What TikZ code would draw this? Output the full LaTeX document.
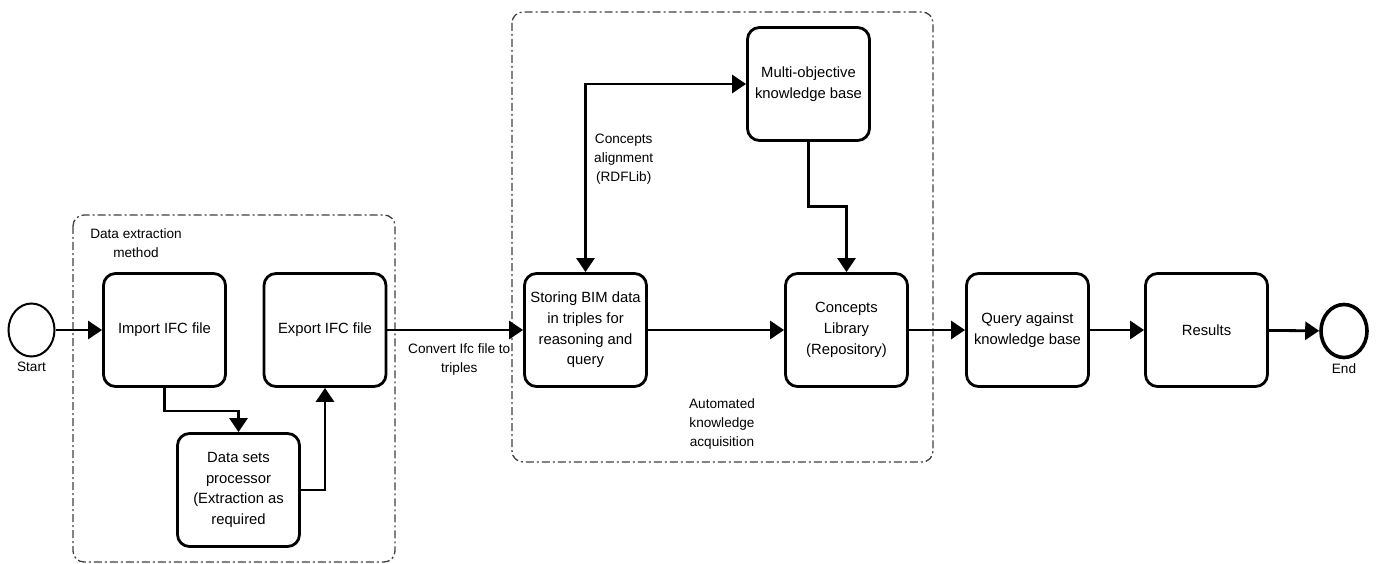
\documentclass[tikz,border=0pt]{standalone}
\usepackage{fontspec}
\setmainfont{Liberation Sans}
\usetikzlibrary{arrows.meta,shapes.geometric}

\tikzset{
    task/.style={draw,line width=2.8pt,rounded corners=12pt,minimum width=122pt,
        minimum height=113pt,align=center,inner sep=2pt,
        font=\fontsize{14.8}{20.7}\selectfont},
    event/.style={draw,ellipse,minimum width=46pt,minimum height=53pt,inner sep=0pt},
    lab/.style={align=center,font=\fontsize{13.6}{19}\selectfont},
    tip/.tip={Triangle[length=14pt,width=18pt]},
    flow/.style={-tip,line width=2.8pt},
    group/.style={draw=black!75,line width=1.3pt,rounded corners=11pt,
        dash pattern=on 8pt off 3pt on 2pt off 3pt}
}

\begin{document}
\begin{tikzpicture}[x=1pt,y=-1pt]
        \useasboundingbox (0,0) rectangle (1376,564);

        % groups
        \draw[group] (73,215) rectangle (395,562);
        \draw[group] (512,12) rectangle (933,462);
        \node[lab] (extract) at (136,243){Data extraction\\method};
        \node[lab] (auto) at (722,424){Automated\\knowledge\\acquisition};

        % events
        \node[event,line width=2pt] (start) at (31.5,330){};
        \node[lab,below=1pt] (startlab) at (start.south){Start};
        \node[event,line width=3.6pt] (end) at (1344,331){};
        \node[lab,below=1pt] (endlab) at (end.south){End};

        % tasks
        \node[task] (import) at (164.5,330){Import IFC file};
        \node[task] (export) at (325,330){Export IFC file};
        \node[task] (dsp) at (238.5,490){Data sets\\processor\\(Extraction as\\required};
        \node[task] (storing) at (585.5,330){Storing BIM data\\in triples for\\reasoning and\\query};
        \node[task] (multi) at (808.5,84){Multi-objective\\knowledge base};
        \node[task] (library) at (846.5,330){Concepts\\Library\\(Repository)};
        \node[task] (query) at (1027.5,330){Query against\\knowledge base};
        \node[task] (results) at (1206.5,330){Results};

        % flows
        \draw[flow] (start)--(import);
        \draw[flow] (import.south)--++(0,23)-|(dsp.north);
        \draw[flow] (dsp.east)-|(export.south);
        \draw[flow] (export)--(storing)node[lab,midway,below=9pt,xshift=4pt]{Convert Ifc file to\\triples};
        \draw[flow,tip-tip] (storing.north)|-(multi.west)node[lab,pos=0.3,right=4pt]{Concepts\\alignment\\(RDFLib)};
        \draw[flow] (storing)--(library);
        \draw[flow] (multi.south)--++(0,65)-|(library.north);
        \draw[flow] (library)--(query);
        \draw[flow] (query)--(results);
        \draw[flow] (results)--(end);
\end{tikzpicture}
\end{document}
